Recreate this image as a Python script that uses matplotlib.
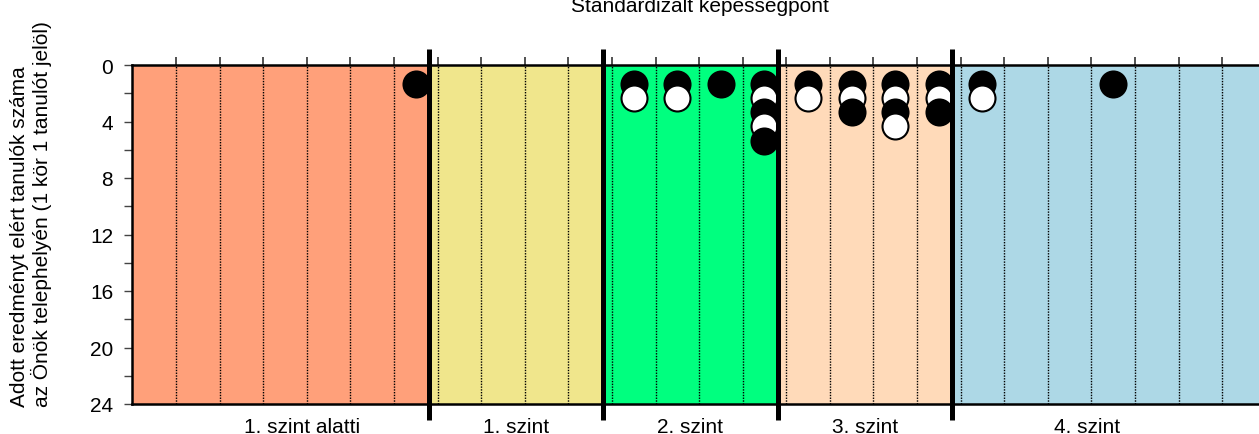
import matplotlib
matplotlib.use("Agg")
import matplotlib.pyplot as plt
import numpy as np

plt.rcParams['font.family'] = ['Liberation Sans', 'DejaVu Sans']

# ---- data ----
n_bins = 26                                  # score bins (tick intervals)
level_bounds = [6.8, 10.8, 14.8, 18.8]       # level boundaries in bin units
level_names = ["1. szint alatti", "1. szint", "2. szint", "3. szint", "4. szint"]
level_colors = ["#FFA07A", "#F0E68C", "#00FF7F", "#FFDAB9", "#ADD8E6"]
# students per bin, stacked top to bottom: B = black marker, W = white marker
student_bins = [6, 11, 12, 13, 14, 15, 16, 17, 18, 19, 22]
student_stacks = ["B", "BW", "BW", "B", "BWBWB", "BW", "BWB", "BWBW", "BWB", "BW", "B"]
y_ticks_major = [0, 4, 8, 12, 16, 20, 24]
title = "Standardizált képességpont"
ylabel = "Adott eredményt elért tanulók száma\naz Önök telephelyén (1 kör 1 tanulót jelöl)"

W, H = 1259, 435
fig = plt.figure(figsize=(W / 100, H / 100), dpi=100)
ax_l, ax_r, ax_t, ax_b = 132.4, 1265.8, 66, 405
ax = fig.add_axes([ax_l / W, 1 - ax_b / H, (ax_r - ax_l) / W, (ax_b - ax_t) / H])

ax.set_xlim(0, n_bins)
ax.set_ylim(24, 0)

# level backgrounds
edges = [0] + level_bounds + [n_bins]
for i, c in enumerate(level_colors):
    ax.axvspan(edges[i], edges[i + 1], color=c, zorder=0, lw=0)

# dotted bin lines
for k in range(1, n_bins):
    ax.axvline(k, color="black", lw=1.0, ls=(0, (1, 1)), zorder=1)

# students
y0 = 1.35
for b, stack in zip(student_bins, student_stacks):
    for i, s in enumerate(stack):
        fc = "black" if s == "B" else "white"
        ax.scatter([b + 0.5], [y0 + i], s=350, facecolor=fc, edgecolor="black",
                   linewidths=1.5, zorder=4 + 0.01 * i, clip_on=False)

# thick level boundaries extending beyond the axes
for xb in level_bounds:
    ax.plot([xb, xb], [-1.13, 25.13], color="black", lw=3.6, zorder=6,
            clip_on=False, solid_capstyle="butt")

# level labels
lab_edges = np.clip(edges, 1, n_bins - 1)
for i, name in enumerate(level_names):
    xc = (lab_edges[i] + lab_edges[i + 1]) / 2
    ax.text(xc, 25.96, name, ha="center", va="baseline", fontsize=15, clip_on=False)

# ticks
ax.xaxis.tick_top()
ax.set_xticks(range(1, n_bins))
ax.tick_params(axis="x", which="both", top=True, bottom=False, labeltop=False,
               labelbottom=False, length=5.5, width=1.2, direction="out", color="#333333")
ax.set_yticks(y_ticks_major)
ax.set_yticks(range(0, 25, 2), minor=True)
ax.tick_params(axis="y", which="both", length=5.8, width=1.0, direction="out",
               color="#444444", labelsize=15, pad=8)

for side in ["top", "left", "bottom"]:
    ax.spines[side].set_linewidth(1.8)
    ax.spines[side].set_zorder(7)
ax.spines["right"].set_visible(False)

# title and y label
fig.text(699.5 / W, 1 - 12 / H, title, ha="center", va="baseline", fontsize=15)
fig.text(31 / W, 1 - 407 / H, ylabel, rotation=90, ha="center", va="bottom",
         multialignment="left", fontsize=15, linespacing=1.12)

fig.savefig("out.png", dpi=100)
